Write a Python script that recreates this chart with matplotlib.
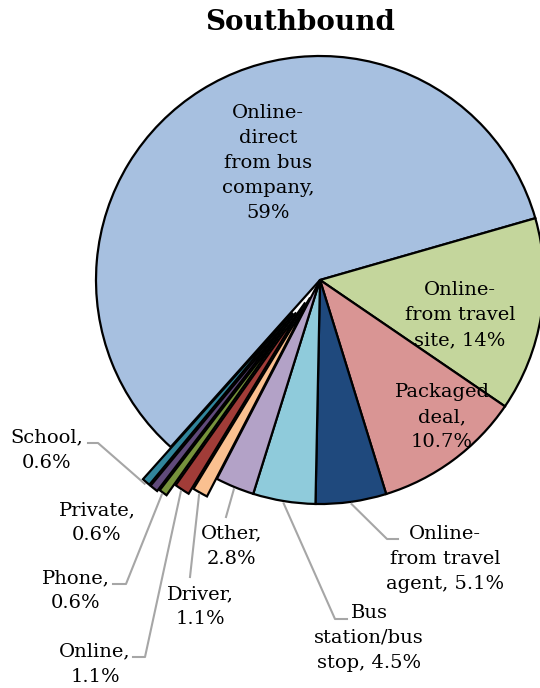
import matplotlib
matplotlib.use("Agg")
import matplotlib.pyplot as plt
import numpy as np

# slices in clockwise order, starting with the big one
categorias = ["Online-\ndirect\nfrom bus\ncompany", "Online-\nfrom travel\nsite", "Packaged\ndeal",
              "Online-\nfrom travel\nagent", "Bus\nstation/bus\nstop", "Other", "Driver",
              "Online", "Phone", "Private", "School"]
valores = [59, 14, 10.7, 5.1, 4.5, 2.8, 1.1, 1.1, 0.6, 0.6, 0.6]
separador = ["\n", " ", "\n", " ", " ", "\n", "\n", "\n", "\n", "\n", "\n"]

cores = ["#A7C0E0", "#C4D69C", "#D99594", "#1F497D", "#8FCBDB", "#B3A2C7",
         "#FAC090", "#A13C38", "#77933C", "#604A7B", "#31859C"]
explode = [0, 0, 0, 0, 0, 0, 0.09, 0.12, 0.18, 0.19, 0.19]  # fraction of radius

# label layout in pixels (x, y from top)
pos_rotulos = [(268, 163), (460, 315), (442, 417), (445, 559), (369, 638), (232, 546),
               (200, 607), (95, 664), (76, 591), (97, 523), (47, 450)]
cotovelos = {3: [(398, 539), (387, 539)], 4: [(347, 619), (335, 619)], 5: [(226, 517)],
             6: [(190, 577)], 7: [(133, 657), (145, 657)], 8: [(113, 584), (126, 584)],
             10: [(88, 443), (98, 443)]}

W, H = 540, 688
R = 224
fig = plt.figure(figsize=(W / 100, H / 100), dpi=100)
ax = fig.add_axes([0, 0, 1, 1])

fonte = "DejaVu Serif"
# matplotlib offsets exploded wedges in data units, so scale by the radius
wedges, _ = ax.pie(valores, colors=cores, explode=[e * R for e in explode], startangle=228.2,
                   counterclock=False, center=(320, H - 280), radius=R,
                   wedgeprops=dict(edgecolor="black", linewidth=1.6))
ax.set_xlim(0, W)
ax.set_ylim(0, H)
ax.set_aspect("equal")
ax.axis("off")

for i, (cat, val) in enumerate(zip(categorias, valores)):
    x, y = pos_rotulos[i]
    texto = f"{cat},{separador[i]}{val:g}%"
    ax.text(x, H - y, texto, ha="center", va="center", fontsize=14, family=fonte,
            linespacing=1.5, zorder=5)
    if i in cotovelos:
        w = wedges[i]
        ang = np.deg2rad((w.theta1 + w.theta2) / 2)
        cx, cy = w.center
        fim = (cx + w.r * 1.01 * np.cos(ang), cy + w.r * 1.01 * np.sin(ang))
        pts = [(px, H - py) for px, py in cotovelos[i]] + [fim]
        xs, ys = zip(*pts)
        ax.plot(xs, ys, color="#A6A6A6", linewidth=1.5, zorder=1)

ax.text(300, H - 22, "Southbound", ha="center", va="center", fontsize=20, fontweight="bold",
        family=fonte)

fig.savefig("out.png", dpi=100)
